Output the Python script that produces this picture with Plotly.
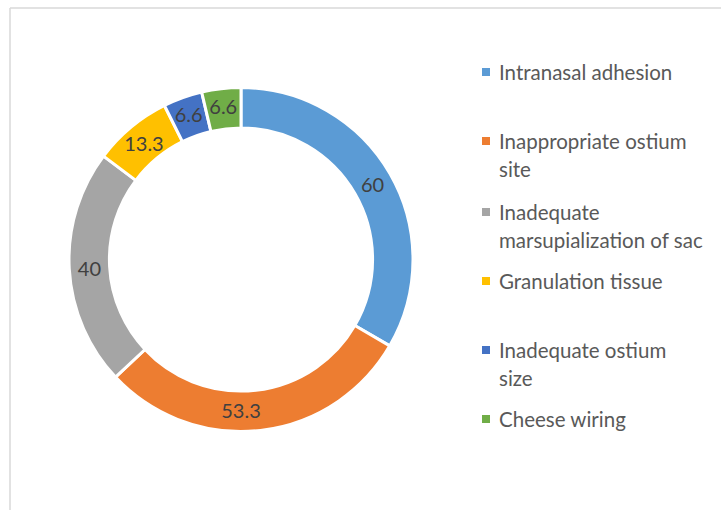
import plotly.graph_objects as go

categories = ["Intranasal adhesion", "Inappropriate ostium site", "Inadequate marsupialization of sac",
              "Granulation tissue", "Inadequate ostium size", "Cheese wiring"]
values = [60, 53.3, 40, 13.3, 6.6, 6.6]
colors = ["#5B9BD5", "#ED7D31", "#A5A5A5", "#FFC000", "#4472C4", "#70AD47"]
legend_text = ["Intranasal adhesion", "Inappropriate ostium<br>site", "Inadequate<br>marsupialization of sac",
               "Granulation tissue", "Inadequate ostium<br>size", "Cheese wiring"]
legend_y_px = [72, 141, 212, 281, 350, 419]  # layout positions of legend rows (first line centre)

W, H = 722, 510
FONT = "Lato"
TXT = "#595959"
LINE_H = 28

fig = go.Figure(go.Pie(
    labels=categories, values=values, sort=False, direction="clockwise", rotation=0,
    hole=0.765,
    marker=dict(colors=colors, line=dict(color="white", width=3)),
    text=[str(v) for v in values], textinfo="text", textposition="inside",
    insidetextorientation="horizontal",
    textfont=dict(family=FONT, size=20, color="#404040"),
    domain=dict(x=[69 / W, 413 / W], y=[1 - 432 / H, 1 - 87 / H]),
    showlegend=False, hoverinfo="label+value",
))

shapes = [
    dict(type="line", xref="paper", yref="paper", x0=10 / W, x1=721 / W, y0=1 - 8 / H, y1=1 - 8 / H,
         line=dict(color="#D9D9D9", width=1.5)),
    dict(type="line", xref="paper", yref="paper", x0=10 / W, x1=10 / W, y0=0, y1=1 - 8 / H,
         line=dict(color="#D9D9D9", width=1.5)),
]
annotations = []
for lab, col, ypx in zip(legend_text, colors, legend_y_px):
    shapes.append(dict(type="rect", xref="paper", yref="paper",
                       x0=482 / W, x1=490 / W, y0=1 - (ypx + 4) / H, y1=1 - (ypx - 4) / H,
                       fillcolor=col, line=dict(width=0)))
    for i, line in enumerate(lab.split("<br>")):
        annotations.append(dict(x=497 / W, y=1 - (ypx + i * LINE_H) / H, xref="paper", yref="paper",
                                xanchor="left", yanchor="middle", align="left", showarrow=False,
                                text=line, font=dict(family=FONT, size=20.5, color=TXT)))

fig.update_layout(
    width=W, height=H, margin=dict(l=0, r=0, t=0, b=0),
    paper_bgcolor="white", plot_bgcolor="white",
    uniformtext=dict(minsize=20, mode="show"),
    shapes=shapes, annotations=annotations,
)
fig.write_html("out.html", config={"displayModeBar": False},
               post_script="document.body.style.margin='0';")
